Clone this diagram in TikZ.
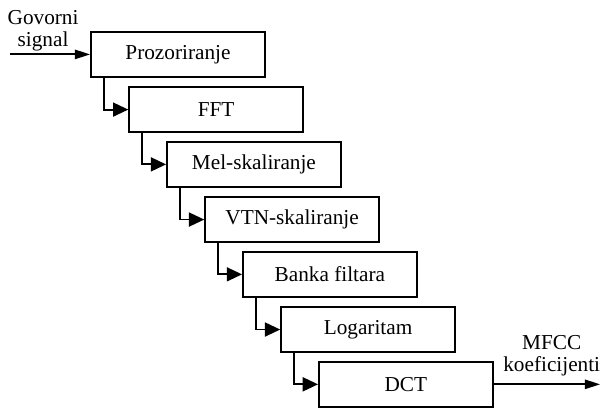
\documentclass[tikz,border=0pt]{standalone}
\usepackage{fontspec}
\setmainfont{Liberation Serif}
\usepackage{tikz}
\usetikzlibrary{calc, positioning, arrows.meta}

\begin{document}
\begin{tikzpicture}[
  blok/.style={draw, line width=1.4pt, minimum width=4.6cm,
               minimum height=1.19cm, inner sep=2pt,
               font=\fontsize{16}{17}\selectfont, align=center},
  oznaka/.style={font=\fontsize{16}{17}\selectfont, align=center,
                 anchor=south, inner sep=0pt},
  veza/.style={-{Triangle[length=11.5pt, width=10.5pt]}, line width=1.4pt},
  tok/.style={-{Triangle[length=11.5pt, width=7pt]}, line width=1.4pt}
]
  \useasboundingbox (0,0) rectangle (15.93,10.82);

  % ── blokovi ──
  \node[blok] (prozor) at (4.71, 9.38) {Prozoriranje};
  \node[blok] (fft)    at (5.72, 7.92) {FFT};
  \node[blok] (mel)    at (6.72, 6.47) {Mel-skaliranje};
  \node[blok] (vtn)    at (7.73, 5.01) {VTN-skaliranje};
  \node[blok] (banka)  at (8.73, 3.56) {Banka filtara};
  \node[blok] (log)    at (9.74, 2.10) {Logaritam};
  \node[blok] (dct)    at (10.74, 0.65) {DCT};

  % ── ulaz i izlaz ──
  \coordinate (ulaz) at (0.26, 9.38);
  \coordinate (izlaz) at (15.88, 0.65);
  \node[oznaka] (govor) at (1.14, 9.45) {Govorni\\signal};
  \node[oznaka] (mfcc) at (14.6, 0.85) {MFCC\\koeficijenti};
  \draw[tok] (ulaz) -- (prozor.west);
  \draw[tok] (dct.east) -- (izlaz);

  % ── veze izmedju blokova ──
  \draw[veza] ($(prozor.south west)+(0.37,0)$) |- (fft.west);
  \draw[veza] ($(fft.south west)+(0.37,0)$) |- (mel.west);
  \draw[veza] ($(mel.south west)+(0.37,0)$) |- (vtn.west);
  \draw[veza] ($(vtn.south west)+(0.37,0)$) |- (banka.west);
  \draw[veza] ($(banka.south west)+(0.37,0)$) |- (log.west);
  \draw[veza] ($(log.south west)+(0.37,0)$) |- (dct.west);
\end{tikzpicture}
\end{document}
